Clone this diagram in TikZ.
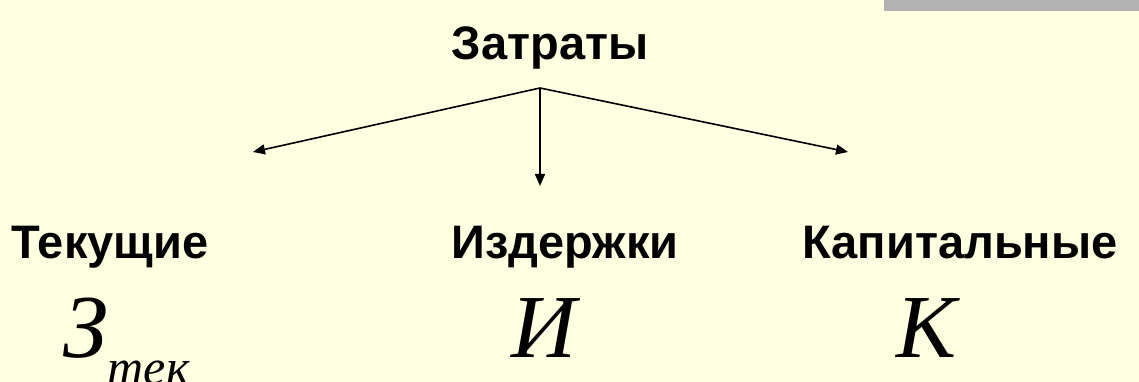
\documentclass[tikz,border=0pt]{standalone}
\usepackage{fontspec}
\usetikzlibrary{arrows.meta}
\newfontfamily\labfont{Liberation Sans}
\newfontfamily\symfont{Liberation Serif}
\definecolor{bgyellow}{HTML}{FFFFE1}
\definecolor{bargray}{HTML}{B2B2B2}
\tikzset{
  lab/.style={inner sep=0pt, anchor=base, font=\labfont\bfseries\fontsize{47}{52}\selectfont},
  sym/.style={inner sep=0pt, anchor=base, font=\symfont\itshape\fontsize{90}{100}\selectfont},
  conn/.style={line width=1.6pt, -{Triangle[length=12pt,width=10pt]}}
}
\begin{document}
\begin{tikzpicture}[x=1pt,y=1pt]
\fill[bgyellow] (0,0) rectangle (1139,382);
\useasboundingbox (0,0) rectangle (1139,382);
\fill[bargray] (884,371) rectangle (1139,382);
\node[lab] (zat) at (550,322) {Затраты};
\node[lab] (tek) at (110,123) {Текущие};
\node[lab] (izd) at (565,123) {Издержки};
\node[lab] (kap) at (960,123) {Капитальные};
\node[sym, anchor=base west] (z) at (63,24) {З\raisebox{-0.3em}{\fontsize{50}{56}\selectfont тек}};
\node[sym] (i) at (544,24) {И};
\node[sym] (k) at (926,24) {К};
\coordinate (o) at (540,294);
\coordinate (tl) at (253,230);
\coordinate (tm) at (540,196);
\coordinate (tr) at (848,230);
\draw[conn] (o) -- (tl);
\draw[conn] (o) -- (tm);
\draw[conn] (o) -- (tr);
\end{tikzpicture}
\end{document}
